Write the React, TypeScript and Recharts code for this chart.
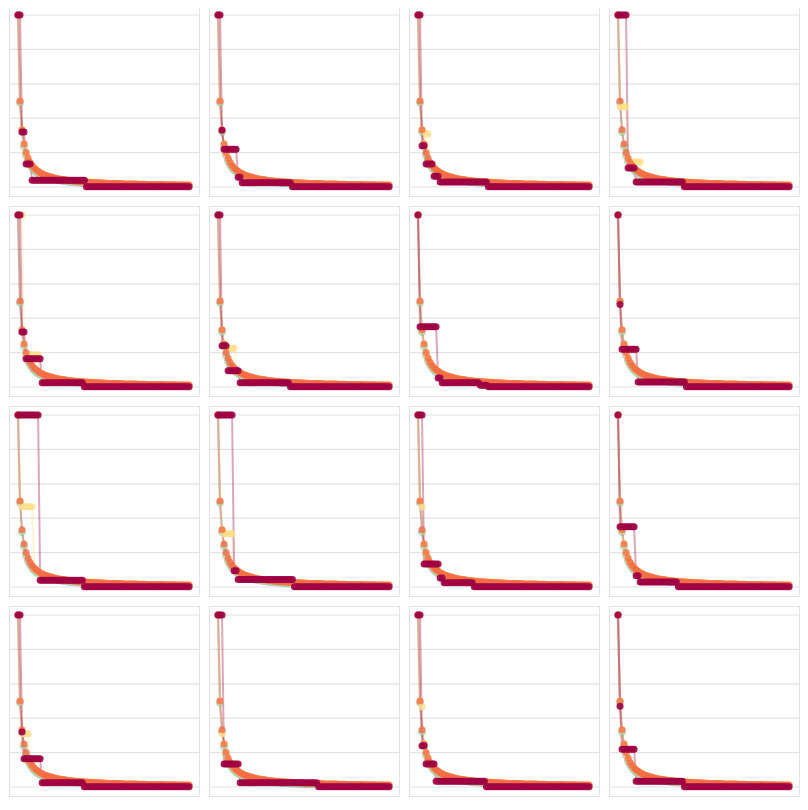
import React from 'react';
import { LineChart, Line, XAxis, YAxis, CartesianGrid } from 'recharts';

// step index shared by every panel
const steps: number[] = Array.from({ length: 86 }, (_, i) => i);

const upperCurve = [
  100, 50, 33.3, 25, 20, 16.7, 14.3, 12.5, 11.1, 10,
  9.1, 8.3, 7.7, 7.1, 6.7, 6.3, 5.9, 5.6, 5.3, 5.0,
  4.8, 4.5, 4.3, 4.2, 4.0, 3.8, 3.7, 3.6, 3.4, 3.3,
  3.2, 3.1, 3.0, 2.9, 2.9, 2.8, 2.7, 2.6, 2.6, 2.5,
  2.4, 2.4, 2.3, 2.3, 2.2, 2.2, 2.1, 2.1, 2.0, 2.0,
  2.0, 1.9, 1.9, 1.8, 1.8, 1.8, 1.7, 1.7, 1.7, 1.7,
  1.6, 1.6, 1.6, 1.6, 1.5, 1.5, 1.5, 1.5, 1.4, 1.4,
  1.4, 1.4, 1.4, 1.3, 1.3, 1.3, 1.3, 1.3, 1.3, 1.2,
  1.2, 1.2, 1.2, 1.2, 1.2, 1.1,
];

// lower curves (green / purple)
const lowerCurve = [
  100, 49, 32, 23.5, 18.5, 15, 12.8, 11, 9.7, 8.7,
  7.9, 7.2, 6.6, 6.1, 5.7, 5.3, 5.0, 4.7, 4.4, 4.2,
  4.0, 3.8, 3.6, 3.4, 3.3, 3.1, 3.0, 2.9, 2.8, 2.7,
  2.6, 2.5, 2.4, 2.3, 2.2, 2.2, 2.1, 2.0, 2.0, 1.9,
  1.9, 1.8, 1.8, 1.7, 1.7, 1.6, 1.6, 1.6, 1.5, 1.5,
  1.5, 1.4, 1.4, 1.4, 1.3, 1.3, 1.3, 1.3, 1.2, 1.2,
  1.2, 1.2, 1.1, 1.1, 1.1, 1.1, 1.0, 1.0, 1.0, 1.0,
  1.0, 0.9, 0.9, 0.9, 0.9, 0.9, 0.9, 0.8, 0.8, 0.8,
  0.8, 0.8, 0.8, 0.8, 0.7, 0.7,
];

// crimson series per panel: [value, fromStep, toStep]
const crimsonRuns: number[][][] = [
  [[100, 0, 1], [32, 2, 3], [13.3, 4, 6], [3.9, 7, 33], [0.2, 34, 85]],
  [[100, 0, 1], [33, 2, 2], [22, 3, 9], [5.6, 10, 11], [2.5, 12, 36], [0.2, 37, 85]],
  [[100, 0, 1], [24, 2, 3], [13.3, 4, 7], [6.2, 8, 10], [2.9, 11, 34], [0.2, 35, 85]],
  [[100, 0, 4], [11, 5, 8], [2.9, 9, 32], [0.2, 33, 85]],
  [[100, 0, 1], [32, 2, 3], [16.4, 4, 11], [2.5, 12, 32], [0.2, 33, 85]],
  [[100, 0, 1], [24, 2, 4], [9.5, 5, 10], [2.5, 11, 35], [0.2, 36, 85]],
  [[100, 0, 0], [35, 1, 9], [5.2, 10, 11], [2.5, 12, 30], [1.0, 31, 34], [0.2, 35, 85]],
  [[100, 0, 0], [48, 1, 1], [22, 2, 9], [2.9, 10, 33], [0.2, 34, 85]],
  [[100, 0, 10], [3.9, 11, 32], [0.2, 33, 85]],
  [[100, 0, 7], [9.5, 8, 9], [4.3, 10, 37], [0.2, 38, 85]],
  [[100, 0, 2], [13.3, 3, 10], [5.2, 11, 12], [2.5, 13, 27], [0.2, 28, 85]],
  [[100, 0, 0], [35, 1, 8], [6.6, 9, 10], [2.9, 11, 29], [0.2, 30, 85]],
  [[100, 0, 1], [32, 2, 2], [16.4, 3, 11], [2.5, 12, 32], [0.2, 33, 85]],
  [[100, 0, 2], [13.3, 3, 10], [2.5, 11, 49], [0.2, 50, 85]],
  [[100, 0, 1], [24, 2, 3], [13.3, 4, 8], [3.3, 9, 33], [0.2, 34, 85]],
  [[100, 0, 0], [47, 1, 1], [22, 2, 8], [3.3, 9, 32], [0.2, 33, 85]],
];

// yellow series holds (otherwise it follows the upper curve)
const yellowHolds: number[][][] = [
  [],
  [],
  [[31, 4, 5]],
  [[46.6, 1, 4], [14.5, 7, 11]],
  [[100, 0, 2], [18.8, 4, 10]],
  [[22.6, 4, 8]],
  [],
  [],
  [[46.6, 2, 7]],
  [[31, 3, 7]],
  [[46.6, 2, 2]],
  [],
  [[31, 2, 5]],
  [[31, 2, 2]],
  [[46.6, 2, 2]],
  [],
];

const yTicks = [0, 20, 40, 60, 80, 100];

const COLORS = {
  purple: '#5e4fa2',
  green: '#abdda4',
  yellow: '#fee08b',
  orange: '#f46d43',
  crimson: '#9e0142',
};

const held = (runs: number[][], i: number): number | undefined => {
  const run = runs.find(([, a, b]) => i >= a && i <= b);
  return run ? run[0] : undefined;
};

const buildPanel = (p: number) =>
  steps.map((i) => ({
    i,
    purple: lowerCurve[i],
    green: lowerCurve[i],
    yellow: held(yellowHolds[p], i) ?? upperCurve[i],
    orange: upperCurve[i],
    crimson: held(crimsonRuns[p], i),
  }));

const Panel: React.FC<{ p: number }> = ({ p }) => {
  const data = buildPanel(p);
  const series: { key: keyof typeof COLORS; dotOpacity: number }[] = [
    { key: 'purple', dotOpacity: 0 },
    { key: 'green', dotOpacity: 0.75 },
    { key: 'yellow', dotOpacity: 0.8 },
    { key: 'orange', dotOpacity: 0.8 },
    { key: 'crimson', dotOpacity: 0.9 },
  ];
  return (
    <LineChart width={189} height={189} data={data} margin={{ top: 8, right: 0, bottom: 9, left: 0 }}>
      <CartesianGrid vertical={false} stroke="#e2e2e2" strokeWidth={1.2} />
      <XAxis type="number" dataKey="i" domain={[0, 85]} hide padding={{ left: 8, right: 10 }} />
      <YAxis hide domain={[0, 100]} ticks={yTicks} />
      {series.map((s) => (
        <Line
          key={s.key}
          type="linear"
          dataKey={s.key}
          stroke={COLORS[s.key]}
          strokeOpacity={0.35}
          strokeWidth={2}
          dot={{
            r: 3.5,
            fill: COLORS[s.key],
            fillOpacity: s.dotOpacity,
            stroke: s.key === 'purple' ? COLORS.purple : 'none',
            strokeOpacity: 0.35,
            strokeWidth: 1,
          }}
          activeDot={false}
          isAnimationActive={false}
        />
      ))}
    </LineChart>
  );
};

export default function App() {
  return (
    <div style={{ position: 'relative', width: 800, height: 800 }}>
      <div style={{ position: 'absolute', left: 588, top: -8, width: 30, height: 1, background: '#2a9fd8' }} />
      {crimsonRuns.map((_, p) => (
        <div
          key={p}
          style={{
            position: 'absolute',
            left: 1 + (p % 4) * 200,
            top: -2 + Math.floor(p / 4) * 200,
            width: 191,
            height: 191,
            border: '1px solid #e2e2e2',
            boxSizing: 'border-box',
          }}
        >
          <Panel p={p} />
        </div>
      ))}
    </div>
  );
}
